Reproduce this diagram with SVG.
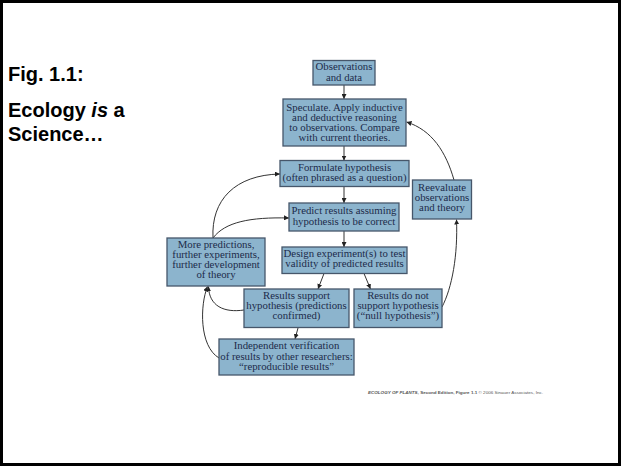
<svg xmlns="http://www.w3.org/2000/svg" width="621" height="466" viewBox="0 0 621 466">
<style>
.box{fill:#8cb4cd;stroke:#46566a;stroke-width:1.3}
.t{font-family:"Liberation Serif","Times New Roman",serif;font-size:10px;fill:#1c2b4a;text-anchor:middle}
.h{font-family:"Liberation Sans",Arial,sans-serif;font-size:20px;font-weight:bold;fill:#000}
.c{fill:none;stroke:#333;stroke-width:1}
</style>
<defs>
<marker id="ah" viewBox="0 0 10 10" refX="10" refY="5" markerWidth="5" markerHeight="5" markerUnits="userSpaceOnUse" orient="auto">
<path d="M0,0 L10,5 L0,10 z" fill="#222"/>
</marker>
</defs>
<rect x="1.5" y="1.5" width="618" height="463" fill="#fff" stroke="#000" stroke-width="3"/>
<text class="h" x="8" y="81">Fig. 1.1:</text>
<text class="h" x="8" y="117">Ecology <tspan font-style="italic">is</tspan> a</text>
<text class="h" x="8" y="141">Science…</text>

<g id="connectors">
<path class="c" marker-end="url(#ah)" d="M344,85 L344,99"/>
<path class="c" marker-end="url(#ah)" d="M344,146 L344,160.5"/>
<path class="c" marker-end="url(#ah)" d="M344,186.5 L344,203"/>
<path class="c" marker-end="url(#ah)" d="M344,231 L344,247"/>
<path class="c" marker-end="url(#ah)" d="M324,273.5 L318,289"/>
<path class="c" marker-end="url(#ah)" d="M364,273.5 L370.5,289"/>
<path class="c" marker-end="url(#ah)" d="M298,328 L295,339"/>
<path class="c" marker-end="url(#ah)" d="M442,307 C452,288 458,255 456.5,219.5"/>
<path class="c" marker-end="url(#ah)" d="M454,180 C446,152 432,130 406.5,122"/>
<path class="c" marker-end="url(#ah)" d="M213,238 C211,200 235,175 280,174"/>
<path class="c" marker-end="url(#ah)" d="M213,238 C225,222 250,217 289,218"/>
<path class="c" marker-end="url(#ah)" d="M244,310 C224,313 209,306 208.5,286.5"/>
<path class="c" marker-end="url(#ah)" d="M219,358 C199,346 200,305 207.5,286.5"/>
</g>

<g id="n-observations">
<rect class="box" x="313" y="60.5" width="62" height="24.5"/>
<text class="t" transform="translate(344,70) scale(1.08,1)">Observations</text>
<text class="t" transform="translate(344,80.5) scale(1.08,1)">and data</text>
</g>
<g id="n-speculate">
<rect class="box" x="283" y="99" width="123" height="47"/>
<text class="t" transform="translate(344.5,111) scale(1.08,1)">Speculate. Apply inductive</text>
<text class="t" transform="translate(344.5,121) scale(1.08,1)">and deductive reasoning</text>
<text class="t" transform="translate(344.5,131) scale(1.08,1)">to observations. Compare</text>
<text class="t" transform="translate(344.5,141) scale(1.08,1)">with current theories.</text>
</g>
<g id="n-formulate">
<rect class="box" x="280" y="160.5" width="129" height="26"/>
<text class="t" transform="translate(344.5,171) scale(1.08,1)">Formulate hypothesis</text>
<text class="t" transform="translate(344.5,181.2) scale(1.08,1)">(often phrased as a question)</text>
</g>
<g id="n-predict">
<rect class="box" x="289" y="203" width="110" height="28"/>
<text class="t" transform="translate(344,214) scale(1.08,1)">Predict results assuming</text>
<text class="t" transform="translate(344,224.5) scale(1.08,1)">hypothesis to be correct</text>
</g>
<g id="n-design">
<rect class="box" x="282" y="247" width="125" height="26.5"/>
<text class="t" transform="translate(344.5,257) scale(1.08,1)">Design experiment(s) to test</text>
<text class="t" transform="translate(344.5,267.3) scale(1.08,1)">validity of predicted results</text>
</g>
<g id="n-more">
<rect class="box" x="167" y="238" width="98" height="48"/>
<text class="t" transform="translate(216,248.3) scale(1.08,1)">More predictions,</text>
<text class="t" transform="translate(216,258.1) scale(1.08,1)">further experiments,</text>
<text class="t" transform="translate(216,267.9) scale(1.08,1)">further development</text>
<text class="t" transform="translate(216,277.7) scale(1.08,1)">of theory</text>
</g>
<g id="n-support">
<rect class="box" x="244" y="289" width="105" height="38.5"/>
<text class="t" transform="translate(296.5,298.5) scale(1.08,1)">Results support</text>
<text class="t" transform="translate(296.5,308.7) scale(1.08,1)">hypothesis (predictions</text>
<text class="t" transform="translate(296.5,319) scale(1.08,1)">confirmed)</text>
</g>
<g id="n-notsupport">
<rect class="box" x="354" y="289" width="88" height="38.5"/>
<text class="t" transform="translate(398,298.5) scale(1.08,1)">Results do not</text>
<text class="t" transform="translate(398,308.7) scale(1.08,1)">support hypothesis</text>
<text class="t" transform="translate(398,319) scale(1.08,1)">(“null hypothesis”)</text>
</g>
<g id="n-independent">
<rect class="box" x="219" y="339" width="135" height="36"/>
<text class="t" transform="translate(286.5,349.3) scale(1.08,1)">Independent verification</text>
<text class="t" transform="translate(286.5,359.6) scale(1.08,1)">of results by other researchers:</text>
<text class="t" transform="translate(286.5,369.9) scale(1.08,1)">“reproducible results”</text>
</g>
<g id="n-reevaluate">
<rect class="box" x="412.5" y="180" width="59" height="39"/>
<text class="t" transform="translate(442,190.5) scale(1.08,1)">Reevaluate</text>
<text class="t" transform="translate(442,200.6) scale(1.08,1)">observations</text>
<text class="t" transform="translate(442,210.7) scale(1.08,1)">and theory</text>
</g>
<text x="368" y="394" font-family="'Liberation Sans',Arial,sans-serif" font-size="4.2" fill="#555" textLength="175" lengthAdjust="spacingAndGlyphs"><tspan font-weight="bold" font-style="italic">ECOLOGY OF PLANTS,</tspan><tspan font-weight="bold"> Second Edition, Figure 1.1</tspan> © 2006 Sinauer Associates, Inc.</text>
</svg>
